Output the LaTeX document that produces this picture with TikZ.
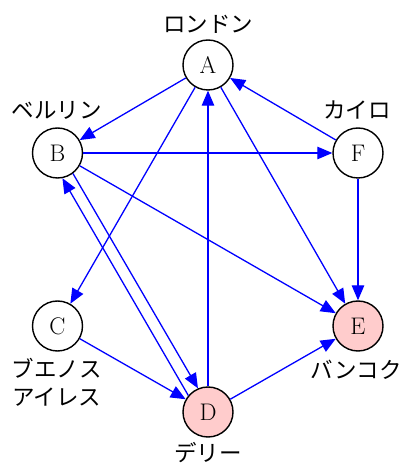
\documentclass[tikz,border=0pt]{standalone}
\usepackage{fontspec}
\newfontfamily\jpfont{Noto Sans CJK JP}
\usetikzlibrary{arrows.meta, positioning}
\definecolor{lightpink}{RGB}{255,204,204}

\begin{document}
\begin{tikzpicture}[
    x=1pt, y=1pt,
    city/.style={circle,draw,line width=1.4pt,minimum size=50pt,inner sep=0pt,font=\fontsize{24}{28}\selectfont},
    hub/.style={city,fill=lightpink},
    place/.style={inner sep=0pt,font=\jpfont\fontsize{22.5}{28}\selectfont,align=center},
    edge/.style={-{Triangle[length=15pt,width=12.5pt]},blue,line width=1.3pt}
    ]
    \useasboundingbox (0,0) rectangle (403,464);

    % Nodes
    \node[city] (A) at (208,399) {A};
    \node[city] (B) at (57.5,311) {B};
    \node[city] (F) at (358,311) {F};
    \node[city] (C) at (57.5,138) {C};
    \node[hub]  (E) at (358,138) {E};
    \node[hub]  (D) at (208,52) {D};

    % Names of the cities
    \node[place] (lA) at (208,440) {ロンドン};
    \node[place] (lB) at (57,354) {ベルリン};
    \node[place] (lF) at (357,354) {カイロ};
    \node[place] (lC) at (57,82) {ブエノス\\アイレス};
    \node[place] (lE) at (356,94) {バンコク};
    \node[place] (lD) at (208,11.5) {デリー};

    % Edges out of A
    \draw[edge] (A) -- (B);
    \draw[edge] (A) -- (C);
    \draw[edge] (A) -- (E);

    % Edges out of B
    \draw[edge] (B) -- (F);
    \draw[edge] (B) -- (E);
    \draw[edge] (B.-53) -- (D.113.2);

    % Edges out of D
    \draw[edge] (D.140) -- (B.-79.8);
    \draw[edge] (D) -- (A);
    \draw[edge] (D) -- (E);

    % The rest
    \draw[edge] (C) -- (D);
    \draw[edge] (F) -- (A);
    \draw[edge] (F) -- (E);
\end{tikzpicture}
\end{document}
